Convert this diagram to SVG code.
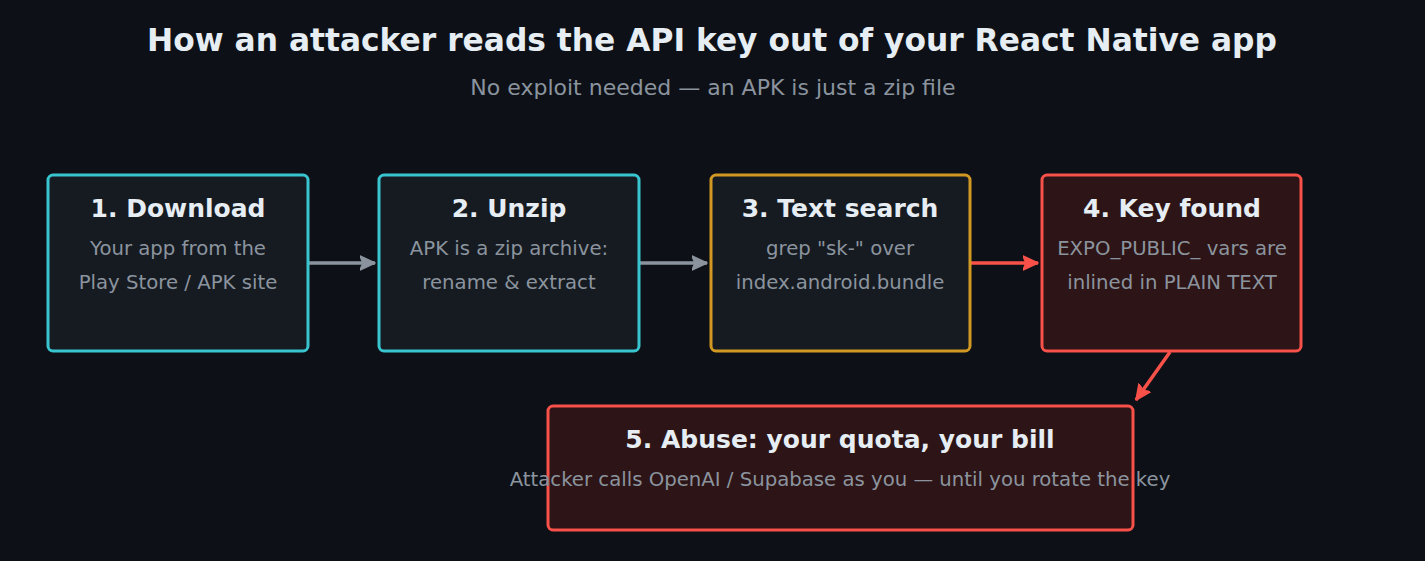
<svg xmlns="http://www.w3.org/2000/svg" width="1425" height="561" viewBox="0 0 1425 561">
<defs>
<marker id="ag" markerWidth="17" markerHeight="16" refX="15" refY="8" orient="auto" markerUnits="userSpaceOnUse"><path d="M0,1 L15,8 L0,15 L3,8 Z" fill="#8b949e" stroke="#8b949e" stroke-width="1.5" stroke-linejoin="round"/></marker>
<marker id="ar" markerWidth="17" markerHeight="16" refX="15" refY="8" orient="auto" markerUnits="userSpaceOnUse"><path d="M0,1 L15,8 L0,15 L3,8 Z" fill="#f85149" stroke="#f85149" stroke-width="1.5" stroke-linejoin="round"/></marker>
</defs>
<style>
.t{font-family:"DejaVu Sans",sans-serif;font-weight:bold;font-size:25px;fill:#e6edf3;text-anchor:middle}
.b{font-family:"DejaVu Sans",sans-serif;font-size:19.7px;fill:#8b949e;text-anchor:middle}
.box{stroke-width:3}
.dk{fill:#161b22}
.rd{fill:#2d1517;stroke:#f85149}
.cy{stroke:#39c5cf}
.yl{stroke:#d29922}
</style>
<rect width="1425" height="561" fill="#0d1117"/>
<text x="712" y="51" style="font-family:'DejaVu Sans',sans-serif;font-weight:bold;font-size:31.3px;fill:#e6edf3;text-anchor:middle">How an attacker reads the API key out of your React Native app</text>
<text x="713" y="95" style="font-family:'DejaVu Sans',sans-serif;font-size:22px;fill:#8b949e;text-anchor:middle">No exploit needed — an APK is just a zip file</text>
<g id="connectors" fill="none" stroke-width="3.5">
<line x1="309" y1="263" x2="375" y2="263" stroke="#8b949e" marker-end="url(#ag)"/>
<line x1="640" y1="263" x2="707" y2="263" stroke="#8b949e" marker-end="url(#ag)"/>
<line x1="971" y1="263" x2="1038" y2="263" stroke="#f85149" marker-end="url(#ar)"/>
<line x1="1170" y1="352" x2="1136" y2="400" stroke="#f85149" marker-end="url(#ar)"/>
</g>
<g id="n1">
<rect class="box dk cy" x="48" y="175" width="260" height="176" rx="5"/>
<text class="t" x="178" y="217">1. Download</text>
<text class="b" x="178" y="255">Your app from the</text>
<text class="b" x="178" y="289">Play Store / APK site</text>
</g>
<g id="n2">
<rect class="box dk cy" x="379" y="175" width="260" height="176" rx="5"/>
<text class="t" x="509" y="217">2. Unzip</text>
<text class="b" x="509" y="255">APK is a zip archive:</text>
<text class="b" x="509" y="289">rename &amp; extract</text>
</g>
<g id="n3">
<rect class="box dk yl" x="711" y="175" width="259" height="176" rx="5"/>
<text class="t" x="840" y="217">3. Text search</text>
<text class="b" x="840" y="255">grep "sk-" over</text>
<text class="b" x="840" y="289">index.android.bundle</text>
</g>
<g id="n4">
<rect class="box rd" x="1042" y="175" width="259" height="176" rx="5"/>
<text class="t" x="1172" y="217">4. Key found</text>
<text class="b" x="1172" y="255">EXPO_PUBLIC_ vars are</text>
<text class="b" x="1172" y="289">inlined in PLAIN TEXT</text>
</g>
<g id="n5">
<rect class="box rd" x="548" y="406" width="585" height="124" rx="5"/>
<text class="t" x="840" y="448">5. Abuse: your quota, your bill</text>
<text class="b" x="840" y="486">Attacker calls OpenAI / Supabase as you — until you rotate the key</text>
</g>
</svg>
